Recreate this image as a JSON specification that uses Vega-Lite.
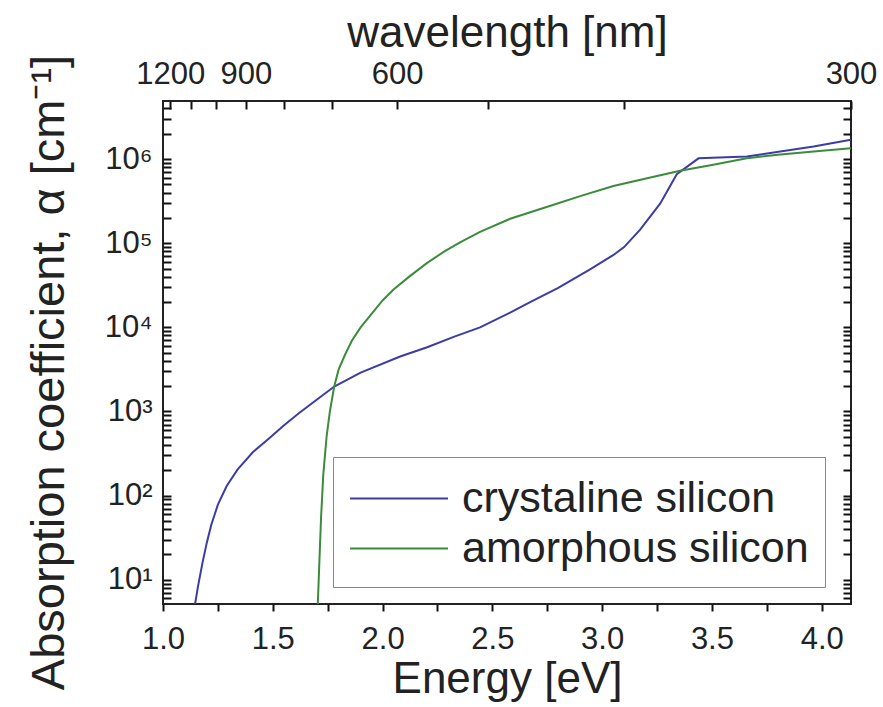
{
  "$schema": "https://vega.github.io/schema/vega-lite/v6.json",
  "width": 688,
  "height": 503,
  "autosize": {"type": "none"},
  "padding": {"left": 163, "top": 101, "right": 32, "bottom": 103},
  "background": "white",
  "config": {
    "view": {"stroke": "#222", "strokeWidth": 2},
    "axis": {"domain": false, "grid": false, "titleFontWeight": "normal"}
  },
  "data": {
    "values": [
      {"energy": 1.146, "alpha": 5.15, "material": "crystaline silicon"},
      {"energy": 1.16, "alpha": 8.5, "material": "crystaline silicon"},
      {"energy": 1.18, "alpha": 16, "material": "crystaline silicon"},
      {"energy": 1.2, "alpha": 28, "material": "crystaline silicon"},
      {"energy": 1.22, "alpha": 45, "material": "crystaline silicon"},
      {"energy": 1.25, "alpha": 78, "material": "crystaline silicon"},
      {"energy": 1.29, "alpha": 130, "material": "crystaline silicon"},
      {"energy": 1.34, "alpha": 205, "material": "crystaline silicon"},
      {"energy": 1.41, "alpha": 330, "material": "crystaline silicon"},
      {"energy": 1.48, "alpha": 470, "material": "crystaline silicon"},
      {"energy": 1.55, "alpha": 680, "material": "crystaline silicon"},
      {"energy": 1.62, "alpha": 960, "material": "crystaline silicon"},
      {"energy": 1.7, "alpha": 1380, "material": "crystaline silicon"},
      {"energy": 1.78, "alpha": 1980, "material": "crystaline silicon"},
      {"energy": 1.9, "alpha": 2900, "material": "crystaline silicon"},
      {"energy": 2.08, "alpha": 4500, "material": "crystaline silicon"},
      {"energy": 2.203, "alpha": 5800, "material": "crystaline silicon"},
      {"energy": 2.33, "alpha": 7800, "material": "crystaline silicon"},
      {"energy": 2.444, "alpha": 10000, "material": "crystaline silicon"},
      {"energy": 2.581, "alpha": 15000, "material": "crystaline silicon"},
      {"energy": 2.672, "alpha": 20000, "material": "crystaline silicon"},
      {"energy": 2.8, "alpha": 29500, "material": "crystaline silicon"},
      {"energy": 2.945, "alpha": 49000, "material": "crystaline silicon"},
      {"energy": 3.05, "alpha": 72000, "material": "crystaline silicon"},
      {"energy": 3.1, "alpha": 90000, "material": "crystaline silicon"},
      {"energy": 3.173, "alpha": 145000, "material": "crystaline silicon"},
      {"energy": 3.264, "alpha": 295000, "material": "crystaline silicon"},
      {"energy": 3.34, "alpha": 660000, "material": "crystaline silicon"},
      {"energy": 3.439, "alpha": 1020000, "material": "crystaline silicon"},
      {"energy": 3.659, "alpha": 1070000, "material": "crystaline silicon"},
      {"energy": 3.963, "alpha": 1410000, "material": "crystaline silicon"},
      {"energy": 4.133, "alpha": 1700000, "material": "crystaline silicon"},
      {"energy": 1.705, "alpha": 5.15, "material": "amorphous silicon"},
      {"energy": 1.712, "alpha": 15.8, "material": "amorphous silicon"},
      {"energy": 1.72, "alpha": 56, "material": "amorphous silicon"},
      {"energy": 1.73, "alpha": 178, "material": "amorphous silicon"},
      {"energy": 1.745, "alpha": 501, "material": "amorphous silicon"},
      {"energy": 1.76, "alpha": 1000, "material": "amorphous silicon"},
      {"energy": 1.78, "alpha": 1995, "material": "amorphous silicon"},
      {"energy": 1.8, "alpha": 3162, "material": "amorphous silicon"},
      {"energy": 1.83, "alpha": 4786, "material": "amorphous silicon"},
      {"energy": 1.86, "alpha": 6918, "material": "amorphous silicon"},
      {"energy": 1.9, "alpha": 10000, "material": "amorphous silicon"},
      {"energy": 1.95, "alpha": 14454, "material": "amorphous silicon"},
      {"energy": 2.0, "alpha": 20893, "material": "amorphous silicon"},
      {"energy": 2.05, "alpha": 28184, "material": "amorphous silicon"},
      {"energy": 2.12, "alpha": 39811, "material": "amorphous silicon"},
      {"energy": 2.2, "alpha": 57544, "material": "amorphous silicon"},
      {"energy": 2.28, "alpha": 79433, "material": "amorphous silicon"},
      {"energy": 2.353, "alpha": 102329, "material": "amorphous silicon"},
      {"energy": 2.444, "alpha": 136144, "material": "amorphous silicon"},
      {"energy": 2.581, "alpha": 194984, "material": "amorphous silicon"},
      {"energy": 2.747, "alpha": 269153, "material": "amorphous silicon"},
      {"energy": 2.9, "alpha": 363078, "material": "amorphous silicon"},
      {"energy": 3.051, "alpha": 478630, "material": "amorphous silicon"},
      {"energy": 3.2, "alpha": 588844, "material": "amorphous silicon"},
      {"energy": 3.355, "alpha": 724436, "material": "amorphous silicon"},
      {"energy": 3.5, "alpha": 851138, "material": "amorphous silicon"},
      {"energy": 3.659, "alpha": 1023293, "material": "amorphous silicon"},
      {"energy": 3.8, "alpha": 1122018, "material": "amorphous silicon"},
      {"energy": 3.963, "alpha": 1230269, "material": "amorphous silicon"},
      {"energy": 4.133, "alpha": 1348963, "material": "amorphous silicon"}
    ]
  },
  "layer": [
    {
      "mark": {"type": "line", "strokeWidth": 2, "clip": true},
      "encoding": {
        "x": {
          "field": "energy", "type": "quantitative",
          "scale": {"domain": [1.0, 4.1334], "nice": false, "zero": false},
          "axis": {
            "orient": "bottom",
            "values": [1.0, 1.25, 1.5, 1.75, 2.0, 2.25, 2.5, 2.75, 3.0, 3.25, 3.5, 3.75, 4.0],
            "labelExpr": "abs(datum.value * 2 - round(datum.value * 2)) < 0.001 ? format(datum.value, '.1f') : ''",
            "tickColor": "#111", "tickWidth": 2, "tickSize": 7,
            "labelFont": "Liberation Sans", "labelColor": "#222",
            "labelPadding": 37, "labelBaseline": "alphabetic", "labelFontSize": 31,
            "labelFlush": false, "labelOverlap": false,
            "title": "Energy [eV]", "titleFont": "Liberation Sans", "titleColor": "#222",
            "titleFontSize": 44, "titleX": 344, "titleY": 88,
            "titleAlign": "center", "titleBaseline": "alphabetic"
          }
        },
        "y": {
          "field": "alpha", "type": "quantitative",
          "scale": {"type": "log", "domain": [5.15, 4900000], "nice": false},
          "axis": {
            "orient": "left",
            "values": [6, 7, 8, 9, 10, 20, 30, 40, 50, 60, 70, 80, 90, 100, 200, 300, 400, 500, 600, 700, 800, 900, 1000,
              2000, 3000, 4000, 5000, 6000, 7000, 8000, 9000, 10000, 20000, 30000, 40000, 50000, 60000, 70000, 80000, 90000, 100000,
              200000, 300000, 400000, 500000, 600000, 700000, 800000, 900000, 1000000, 2000000, 3000000, 4000000],
            "labelExpr": "abs(log(datum.value) / LN10 - round(log(datum.value) / LN10)) < 0.001 ? '10' + ['⁰','¹','²','³','⁴','⁵','⁶','⁷'][round(log(datum.value) / LN10)] : ''",
            "tickColor": "#111", "tickWidth": 2, "tickSize": -8,
            "labelFont": "Liberation Sans", "labelColor": "#222",
            "labelPadding": 19, "labelFontSize": 31, "labelFlush": false, "labelOverlap": false,
            "title": "Absorption coefficient, α [cm⁻¹]", "titleFont": "Liberation Sans", "titleColor": "#222",
            "titleFontSize": 47, "titleAngle": -90,
            "titleX": -100, "titleY": 271, "titleAlign": "center", "titleBaseline": "alphabetic"
          }
        },
        "color": {
          "field": "material", "type": "nominal",
          "scale": {"domain": ["crystaline silicon", "amorphous silicon"], "range": ["#3c3ca6", "#3a8c3a"]},
          "legend": {
            "title": null, "orient": "none", "legendX": 170, "legendY": 356,
            "strokeColor": "#888", "padding": 16, "symbolType": "M-1,0H3", "symbolSize": 2401,
            "symbolStrokeWidth": 2, "symbolFillColor": "transparent", "labelFontSize": 43,
            "labelFont": "Liberation Sans", "labelColor": "#222", "labelOffset": 62, "rowPadding": 2, "labelLimit": 0
          }
        }
      }
    },
    {
      "mark": {"type": "line", "strokeOpacity": 0},
      "encoding": {
        "x": {
          "field": "energy", "type": "quantitative",
          "scale": {"domain": [1.0, 4.1334], "nice": false, "zero": false},
          "axis": {
            "orient": "top",
            "values": [1.0333333, 1.1272727, 1.24, 1.3777778, 1.55, 1.7714286, 2.0666667, 2.48, 3.1, 4.1333333],
            "labelExpr": "round(1240 / datum.value) % 300 == 0 ? '' + round(1240 / datum.value) : ''",
            "tickColor": "#111", "tickWidth": 2, "tickSize": -8,
            "labelFont": "Liberation Sans", "labelColor": "#222",
            "labelPadding": 26, "labelBaseline": "alphabetic", "labelFontSize": 31,
            "labelFlush": false, "labelOverlap": false,
            "title": "wavelength [nm]", "titleFont": "Liberation Sans", "titleColor": "#222",
            "titleFontSize": 44, "titleX": 344, "titleY": -55,
            "titleAlign": "center", "titleBaseline": "alphabetic"
          }
        },
        "y": {
          "field": "alpha", "type": "quantitative",
          "scale": {"type": "log", "domain": [5.15, 4900000], "nice": false},
          "axis": {
            "orient": "right", "labels": false, "title": null,
            "tickColor": "#111", "tickWidth": 2, "tickSize": -8,
            "values": [6, 7, 8, 9, 10, 20, 30, 40, 50, 60, 70, 80, 90, 100, 200, 300, 400, 500, 600, 700, 800, 900, 1000,
              2000, 3000, 4000, 5000, 6000, 7000, 8000, 9000, 10000, 20000, 30000, 40000, 50000, 60000, 70000, 80000, 90000, 100000,
              200000, 300000, 400000, 500000, 600000, 700000, 800000, 900000, 1000000, 2000000, 3000000, 4000000]
          }
        }
      }
    }
  ],
  "resolve": {"axis": {"x": "independent", "y": "independent"}}
}
